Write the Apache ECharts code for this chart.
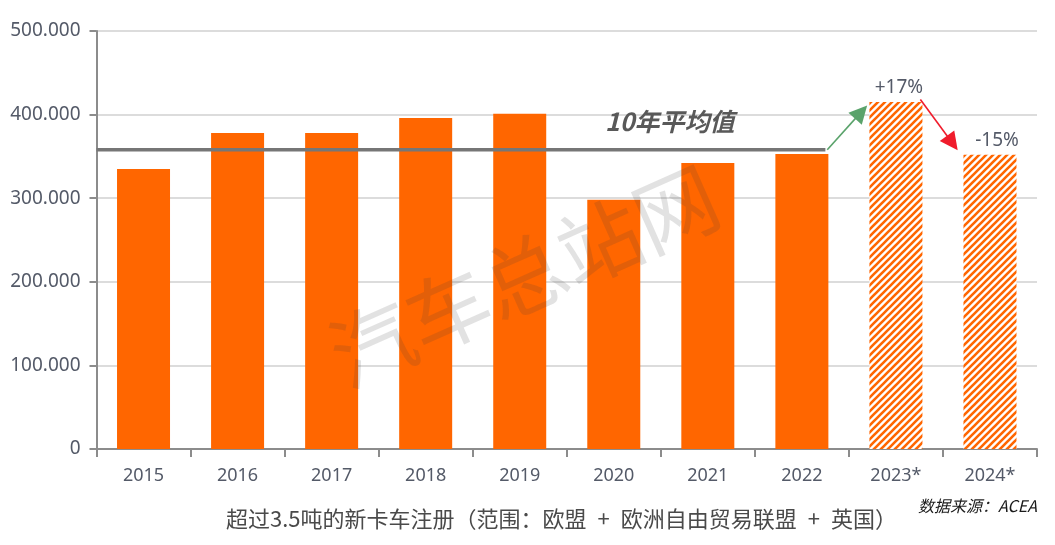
<!DOCTYPE html>
<html>
<head>
<meta charset="utf-8">
<style>html,body{margin:0;padding:0;background:#fff}#chart{width:1055px;height:545px}</style>
<script src="https://cdn.jsdelivr.net/npm/echarts@6/dist/echarts.min.js"></script>
</head>
<body>
<div id="chart"></div>
<script>
var years = ['2015', '2016', '2017', '2018', '2019', '2020', '2021', '2022', '2023*', '2024*'];
var registrations = [335000, 378000, 378000, 396000, 401000, 298000, 342000, 353000, 415000, 352000];
var forecastYears = ['2023*', '2024*'];
var barNotes = {'2023*': '+17%', '2024*': '-15%'};
var noteOffsets = {'2023*': [3, 0], '2024*': [7, 0]};
// x on these runs from 0 to 10 across the ten categories
var averageLine = [[0, 358000], [7.75, 358000]];
var upArrow = [[7.77, 358000], [8.13, 403000]];
var downArrow = [[8.76, 418000], [9.1, 366000]];

var textColor = '#545a68';
var latinFont = '"Noto Sans", sans-serif';
var cnFont = '"Noto Sans CJK SC", sans-serif';

// stripes for the forecast bars
function makeHatch() {
    var size = 7;
    var c = document.createElement('canvas');
    c.width = size;
    c.height = size;
    var ctx = c.getContext('2d');
    ctx.fillStyle = '#fff';
    ctx.fillRect(0, 0, size, size);
    ctx.strokeStyle = '#ff6600';
    ctx.lineWidth = 2.6;
    ctx.beginPath();
    ctx.moveTo(-1, 1); ctx.lineTo(1, -1);
    ctx.moveTo(0, size); ctx.lineTo(size, 0);
    ctx.moveTo(size - 1, size + 1); ctx.lineTo(size + 1, size - 1);
    ctx.stroke();
    return c;
}
var hatch = makeHatch();

var barData = registrations.map(function (v, i) {
    var forecast = forecastYears.indexOf(years[i]) >= 0;
    return {
        value: v,
        itemStyle: forecast ? {color: {image: hatch, repeat: 'repeat'}} : {color: '#ff6600'},
        label: {
            show: forecast,
            position: 'top',
            distance: 5,
            offset: noteOffsets[years[i]] || [0, 0],
            formatter: barNotes[years[i]] || '',
            color: textColor,
            fontFamily: latinFont,
            fontSize: 19
        }
    };
});

function arrowLine(points, color) {
    return {
        silent: true,
        symbol: ['none', 'triangle'],
        symbolSize: 18,
        label: {show: false},
        lineStyle: {color: color, width: 1.6, type: 'solid'},
        data: [[
            {xAxis: points[0][0], yAxis: points[0][1]},
            {xAxis: points[1][0], yAxis: points[1][1]}
        ]]
    };
}

var myChart = echarts.init(document.getElementById('chart'));
var option = {
    animation: false,
    backgroundColor: '#fff',
    grid: {left: 96.5, right: 18, top: 31, bottom: 96},
    xAxis: [
        {
            type: 'category',
            data: years,
            axisLine: {lineStyle: {color: '#8c8c8c', width: 2}},
            axisTick: {show: true, length: 8, lineStyle: {color: '#8c8c8c', width: 2}},
            axisLabel: {color: textColor, fontFamily: latinFont, fontSize: 18, margin: 18}
        },
        {type: 'value', min: 0, max: 10, show: false}
    ],
    yAxis: {
        type: 'value',
        min: 0,
        max: 500000,
        interval: 100000,
        axisLine: {show: true, lineStyle: {color: '#8c8c8c', width: 2}},
        axisTick: {show: true, length: 7, lineStyle: {color: '#8c8c8c', width: 2}},
        splitLine: {lineStyle: {color: '#dcdcdc', width: 2}},
        axisLabel: {
            color: textColor,
            fontFamily: latinFont,
            fontSize: 19,
            margin: 16,
            formatter: function (v) {
                return v === 0 ? '0' : (v / 1000) + '.000';
            }
        }
    },
    series: [
        {
            type: 'bar',
            data: barData,
            barWidth: 53,
            z: 2
        },
        {
            type: 'line',
            xAxisIndex: 1,
            data: averageLine,
            symbol: 'none',
            lineStyle: {color: '#767676', width: 3.5},
            z: 3
        },
        {
            type: 'line',
            xAxisIndex: 1,
            data: [],
            markLine: arrowLine(upArrow, '#5aa36b'),
            z: 3
        },
        {
            type: 'line',
            xAxisIndex: 1,
            data: [],
            markLine: arrowLine(downArrow, '#f01c2c'),
            z: 3
        }
    ],
    graphic: [
        {
            type: 'text',
            left: 605,
            top: 109,
            z: 10,
            style: {
                text: '10年平均值',
                fill: '#595959',
                font: 'italic bold 25px ' + cnFont
            }
        },
        {
            type: 'text',
            left: 226,
            top: 508,
            z: 10,
            style: {
                text: '超过3.5吨的新卡车注册（范围：欧盟\u2002+\u2002欧洲自由贸易联盟\u2002+\u2002英国）',
                fill: '#4a4a4a',
                font: '22px ' + cnFont
            }
        },
        {
            type: 'text',
            left: 918,
            top: 498,
            z: 10,
            style: {
                text: '数据来源：ACEA',
                fill: '#1a1a1a',
                font: 'italic 16px ' + cnFont
            }
        },
        {
            type: 'text',
            x: 524,
            y: 276,
            rotation: 24 * Math.PI / 180,
            z: 20,
            silent: true,
            style: {
                text: '汽车总站网',
                fill: 'rgba(60,60,60,0.15)',
                font: '400 83px ' + cnFont,
                align: 'center',
                verticalAlign: 'middle'
            }
        }
    ]
};
myChart.setOption(option);
</script>
</body>
</html>
